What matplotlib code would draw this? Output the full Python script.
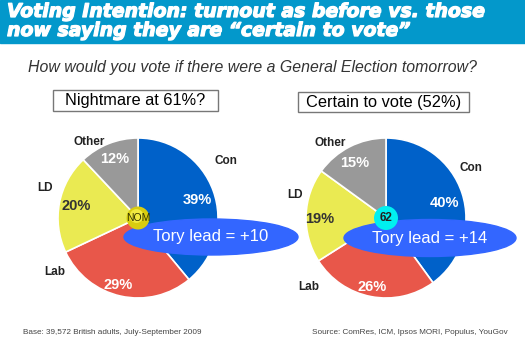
import matplotlib.pyplot as plt
import matplotlib.patheffects as pe
from matplotlib.patches import Ellipse, Circle, Rectangle

# Datos
parties = ["Con", "Lab", "LD", "Other"]
all_voters = [39, 29, 20, 12]
certain_voters = [40, 26, 19, 15]
lead_all = 10
lead_certain = 14

title_lines = ["Voting Intention: turnout as before vs. those",
               "now saying they are \u201ccertain to vote\u201d"]
subtitle = "How would you vote if there were a General Election tomorrow?"
box_titles = ["Nightmare at 61%?", "Certain to vote (52%)"]
centre_tags = ["NOM", "62"]
base_note = "Base: 39,572 British adults, July-September 2009"
source_note = "Source: ComRes, ICM, Ipsos MORI, Populus, YouGov"

colors = ["#0061C9", "#E8574A", "#EAEA52", "#999999"]
W, H = 525, 363


def Y(y):
    # coordenadas en pixeles desde arriba
    return H - y


fig = plt.figure(figsize=(5.25, 3.63), dpi=100)
ax = fig.add_axes([0, 0, 1, 1])
font = "Liberation Sans"

# Banda del titulo
ax.add_patch(Rectangle((0, Y(43)), W, 43, color="#0398CB", zorder=1))
heavy = [pe.withStroke(linewidth=0.9, foreground="white")]
for k, line in enumerate(title_lines):
    ax.text(7, Y(17 + 19 * k), line, color="white", fontsize=13.6, fontweight="bold",
            style="italic", family="DejaVu Sans", va="baseline", ha="left", zorder=2,
            path_effects=heavy)

ax.text(252, Y(72), subtitle, color="#333333", fontsize=11.4, style="italic",
        family=font, ha="center", va="baseline")

panels = [
    dict(values=all_voters, center=(138, 218), box=(53, 90, 165, 21), lead=lead_all,
         ell=(211, 237, 174, 36), tag_r=11.5, tag_color="#D8CC10", tag_text="#333300",
         labels=[(226, 161), (55, 272), (45, 188), (89, 142)],
         pcts=[(197, 200), (118, 285), (76, 206), (115, 159)]),
    dict(values=certain_voters, center=(386, 218), box=(298, 92, 171, 20), lead=lead_certain,
         ell=(430, 238, 172, 37), tag_r=12, tag_color="#00F0F0", tag_text="#222222",
         labels=[(471, 168), (309, 287), (295, 195), (330, 143)],
         pcts=[(445, 203), (372, 287), (320, 219), (355, 163)]),
]

for i, p in enumerate(panels):
    cx, cy = p["center"]
    ax.pie(p["values"], colors=colors, startangle=90, counterclock=False,
           center=(cx, Y(cy)), radius=80, frame=True,
           wedgeprops=dict(edgecolor="white", linewidth=1.2, zorder=3))

    bx, by, bw, bh = p["box"]
    ax.add_patch(Rectangle((bx, Y(by + bh)), bw, bh, facecolor="white",
                           edgecolor="#777777", linewidth=1, zorder=4))
    ax.text(bx + bw / 2, Y(by + bh / 2), box_titles[i], fontsize=11.8, family=font,
            ha="center", va="center", color="black", zorder=5)

    for j, name in enumerate(parties):
        lx, ly = p["labels"][j]
        ax.text(lx, Y(ly), name, fontsize=8.5, fontweight="bold", family=font,
                color="#222222", ha="center", va="center", zorder=5)
        px, py = p["pcts"][j]
        pct_color = "#333333" if name == "LD" else "white"
        ax.text(px, Y(py), f"{p['values'][j]}%", fontsize=10.5, fontweight="bold",
                family=font, color=pct_color, ha="center", va="center", zorder=5)

for i, p in enumerate(panels):
    ex, ey, ew, eh = p["ell"]
    ax.add_patch(Ellipse((ex, Y(ey)), ew, eh, color="#3366FF", zorder=6))
    ax.text(ex, Y(ey), f"Tory lead = +{p['lead']}", color="white", fontsize=12,
            family=font, ha="center", va="center", zorder=7)

    cx, cy = p["center"]
    ax.add_patch(Circle((cx, Y(cy)), p["tag_r"], facecolor=p["tag_color"],
                        edgecolor="none", zorder=8))
    if i == 0:
        ax.add_patch(Circle((cx - 1.5, Y(cy) + 2), p["tag_r"] * 0.6,
                            facecolor="#F2EA40", edgecolor="none", zorder=8))
    ax.text(cx, Y(cy), centre_tags[i], fontsize=7.5 if i == 0 else 8.5,
            fontweight="normal" if i == 0 else "bold", family=font,
            color=p["tag_text"], ha="center", va="center", zorder=9)

ax.text(23, Y(333), base_note, fontsize=5.9, family=font, color="#444444",
        ha="left", va="center")
ax.text(508, Y(333), source_note, fontsize=5.9, family=font, color="#444444",
        ha="right", va="center")

ax.set_xlim(0, W)
ax.set_ylim(0, H)
ax.set_aspect("auto")
ax.axis("off")

fig.savefig("out.png", dpi=100, facecolor="white")
